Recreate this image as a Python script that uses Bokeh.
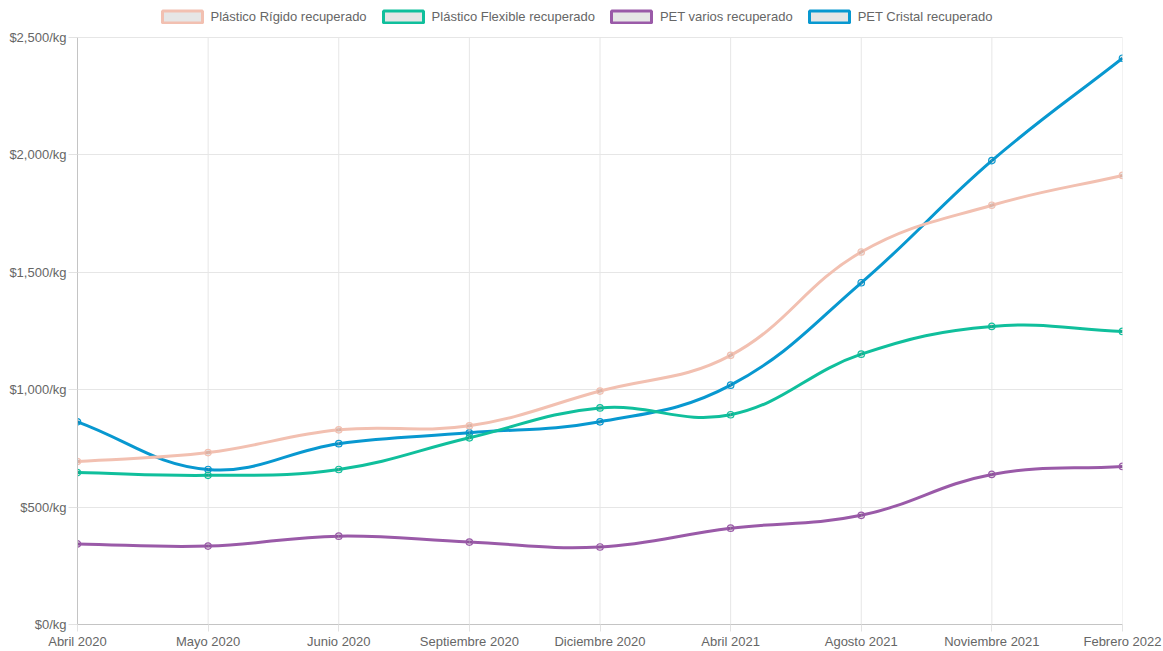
import math
from bokeh.plotting import figure
from bokeh.models import Range1d, FixedTicker, Legend, LegendItem, ColumnDataSource
from bokeh.embed import file_html
from bokeh.resources import INLINE

# ---- data ----
months = ["Abril 2020", "Mayo 2020", "Junio 2020", "Septiembre 2020", "Diciembre 2020",
          "Abril 2021", "Agosto 2021", "Noviembre 2021", "Febrero 2022"]
rigido = [694, 732, 829, 846, 994, 1146, 1586, 1785, 1912]
flexible = [647, 635, 660, 795, 922, 893, 1151, 1269, 1248]
pet_varios = [343, 334, 376, 351, 330, 410, 465, 639, 673]
pet_cristal = [863, 660, 770, 816, 863, 1019, 1455, 1975, 2411]
series_names = ["Plástico Rígido recuperado", "Plástico Flexible recuperado",
                "PET varios recuperado", "PET Cristal recuperado"]
y_ticks = [0, 500, 1000, 1500, 2000, 2500]
y_tick_labels = ["$0/kg", "$500/kg", "$1,000/kg", "$1,500/kg", "$2,000/kg", "$2,500/kg"]

colors = ["#f2c0b1", "#10bf9c", "#9a5aa8", "#0898d0"]
series = [rigido, flexible, pet_varios, pet_cristal]

# ---- geometry ----
W, H = 1163, 651
BL, BR, BB = 77, 41, 24
PLOT_TOP = 37                      # pixel row where the 2,500 line sits
FW = W - BL - BR
FH_ALL = H - BB                    # frame spans from the very top
FH = FH_ALL - PLOT_TOP             # height of the data area
YMAX = 2500
Y_END = YMAX * FH_ALL / FH         # extra room above for the legend
NX = len(months) - 1
XS = FW / NX
YS = FH / YMAX
TENSION = 0.4

FONT = "Liberation Sans"
NAN = float("nan")


def spline_source(vals):
    n = len(vals)
    pts = [(i * XS, v * YS) for i, v in enumerate(vals)]
    prev_cp, next_cp = [], []
    for i in range(n):
        prv = pts[i - 1] if i > 0 else pts[i]
        cur = pts[i]
        nxt = pts[i + 1] if i < n - 1 else pts[i]
        d01 = math.dist(cur, prv)
        d12 = math.dist(nxt, cur)
        tot = d01 + d12
        s01 = d01 / tot if tot else 0
        s12 = d12 / tot if tot else 0
        fa, fb = TENSION * s01, TENSION * s12
        pc = (cur[0] - fa * (nxt[0] - prv[0]), cur[1] - fa * (nxt[1] - prv[1]))
        nc = (cur[0] + fb * (nxt[0] - prv[0]), cur[1] + fb * (nxt[1] - prv[1]))
        clamp = lambda q: (min(max(q[0], 0), FW), min(max(q[1], 0), FH))
        prev_cp.append(clamp(pc))
        next_cp.append(clamp(nc))
    d = dict(x0=[], y0=[], x1=[], y1=[], cx0=[], cy0=[], cx1=[], cy1=[])
    for i in range(n - 1):
        d["x0"].append(i); d["y0"].append(vals[i])
        d["x1"].append(i + 1); d["y1"].append(vals[i + 1])
        d["cx0"].append(next_cp[i][0] / XS); d["cy0"].append(next_cp[i][1] / YS)
        d["cx1"].append(prev_cp[i + 1][0] / XS); d["cy1"].append(prev_cp[i + 1][1] / YS)
    return ColumnDataSource(d)


p = figure(width=W, height=H, output_backend="svg", toolbar_location=None,
           x_range=Range1d(0, NX), y_range=Range1d(0, Y_END),
           min_border_left=BL, min_border_right=BR, min_border_top=0, min_border_bottom=BB)
p.outline_line_color = None
p.background_fill_color = "white"
p.border_fill_color = "white"

# axes
p.xaxis.ticker = FixedTicker(ticks=list(range(len(months))))
p.xaxis.major_label_overrides = {i: m for i, m in enumerate(months)}
p.yaxis.ticker = FixedTicker(ticks=y_ticks)
p.yaxis.major_label_overrides = {t: l for t, l in zip(y_ticks, y_tick_labels)}
p.yaxis.bounds = (0, YMAX)
for ax in (p.xaxis, p.yaxis):
    ax.axis_line_color = "#c4c4c4"
    ax.axis_line_width = 1
    ax.major_tick_line_color = "#e2e2e2"
    ax.minor_tick_line_color = None
    ax.major_tick_in = 0
    ax.major_label_text_font = FONT
    ax.major_label_text_font_size = "13px"
    ax.major_label_text_color = "#666666"
p.yaxis.major_tick_out = 9
p.yaxis.major_label_standoff = 2
p.xaxis.major_tick_out = 7
p.xaxis.major_label_standoff = 2
p.ygrid.grid_line_color = "#e6e6e6"
p.xgrid.visible = False

# vertical category grid lines, limited to the value range
cats = list(range(len(months)))
p.segment(x0=cats, y0=[0] * len(cats), x1=cats, y1=[YMAX] * len(cats),
          line_color="#e6e6e6", line_width=1)

# lines (draw last series first so the first series sits on top)
for vals, c in reversed(list(zip(series, colors))):
    src = spline_source(vals)
    p.bezier(x0="x0", y0="y0", x1="x1", y1="y1", cx0="cx0", cy0="cy0", cx1="cx1", cy1="cy1",
             source=src, line_color=c, line_width=3)
    p.scatter(x=cats, y=vals, size=6.5, marker="circle",
              fill_color="black", fill_alpha=0.08, line_color=c, line_width=1.2)

# legend proxies (one undrawable row so the legend swatch is rendered)
items = []
for name, c in zip(series_names, colors):
    r = p.quad(left=[NAN], right=[NAN], top=[NAN], bottom=[NAN], fill_color="#e6e6e6",
               line_color=c, line_width=3)
    items.append(LegendItem(label=name, renderers=[r]))

legend = Legend(items=items, orientation="horizontal", location=(79.5, FH_ALL - 27),
                glyph_width=50, glyph_height=15, label_standoff=4, spacing=11,
                padding=0, margin=0, label_height=12,
                label_text_font=FONT, label_text_font_size="13px",
                label_text_color="#666666", border_line_alpha=0,
                background_fill_alpha=0)
p.add_layout(legend, "center")

open("out.html", "w").write(file_html(p, INLINE))
